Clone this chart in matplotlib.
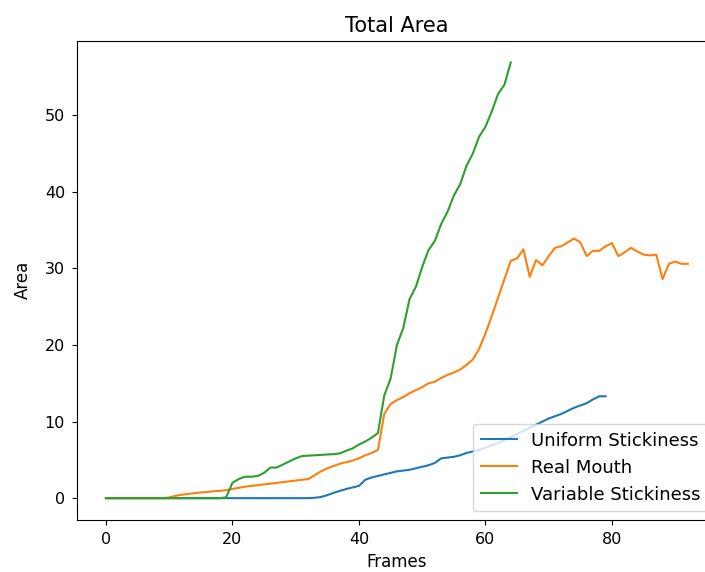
import matplotlib
matplotlib.use('Agg')
import matplotlib.pyplot as plt
import numpy as np

# Uniform Stickiness, frames 0..79
uniform = [0]*33 + [0.05, 0.15, 0.4, 0.7, 0.95, 1.2, 1.4, 1.6,
                    2.4, 2.7, 2.9, 3.1, 3.3, 3.5, 3.6, 3.7, 3.9, 4.1,
                    4.3, 4.6, 5.2, 5.3, 5.4, 5.6, 5.9, 6.1, 6.3, 6.6,
                    6.9, 7.2, 7.6, 8.0, 8.4, 8.8, 9.2, 9.6, 10.0, 10.4,
                    10.7, 11.0, 11.4, 11.8, 12.1, 12.4, 12.9, 13.3, 13.3]

# Real Mouth, frames 0..92
real_mouth = [0]*10 + [0.1, 0.3, 0.45, 0.55, 0.65, 0.75, 0.8, 0.9, 0.95, 1.05,
                       1.2, 1.35, 1.5, 1.6, 1.7, 1.8, 1.9, 2.0, 2.1, 2.2,
                       2.3, 2.4, 2.5, 3.0, 3.5, 3.9, 4.2, 4.5, 4.7, 4.9,
                       5.2, 5.6, 5.9, 6.3, 11.0, 12.3, 12.8, 13.2, 13.7, 14.1,
                       14.5, 15.0, 15.2, 15.7, 16.1, 16.4, 16.8, 17.4, 18.1, 19.5,
                       21.5, 23.8, 26.2, 28.6, 31.0, 31.3, 32.5, 28.9, 31.1, 30.4,
                       31.6, 32.7, 32.9, 33.4, 33.9, 33.4, 31.6, 32.3, 32.3, 32.9,
                       33.3, 31.6, 32.1, 32.7, 32.2, 31.8, 31.7, 31.8, 28.6, 30.6,
                       30.9, 30.6, 30.6]

# Variable Stickiness, frames 0..65
variable = [0]*19 + [0.1, 2.0, 2.5, 2.8, 2.8, 2.9, 3.3, 4.0, 4.0, 4.4,
                     4.8, 5.2, 5.5, 5.55, 5.6, 5.65, 5.7, 5.75, 5.85, 6.2,
                     6.5, 7.0, 7.4, 7.9, 8.5, 13.4, 15.6, 20.0, 22.2, 26.0,
                     27.6, 30.2, 32.4, 33.6, 35.8, 37.4, 39.5, 41.0, 43.4, 45.0,
                     47.2, 48.5, 50.5, 52.8, 54.0, 56.9]

fig = plt.figure(figsize=(7.05, 5.72), dpi=100)
# the axes runs a little past the right edge of the picture, as in the original crop
ax = fig.add_axes([0.109, 0.091, 0.908, 0.838])

ax.plot(np.arange(len(uniform)), uniform, label='Uniform Stickiness')
ax.plot(np.arange(len(real_mouth)), real_mouth, label='Real Mouth')
ax.plot(np.arange(len(variable)), variable, label='Variable Stickiness')

ax.set_title('Total Area', fontsize=15, pad=6)
ax.set_xlabel('Frames', fontsize=12, labelpad=4.5)
ax.set_ylabel('Area', fontsize=12, labelpad=9)
ax.tick_params(labelsize=11.5, pad=5)
ax.spines['right'].set_visible(False)  # cut off in the original
ax.legend(loc='lower right', fontsize=13)

fig.savefig('out.png', dpi=100)
